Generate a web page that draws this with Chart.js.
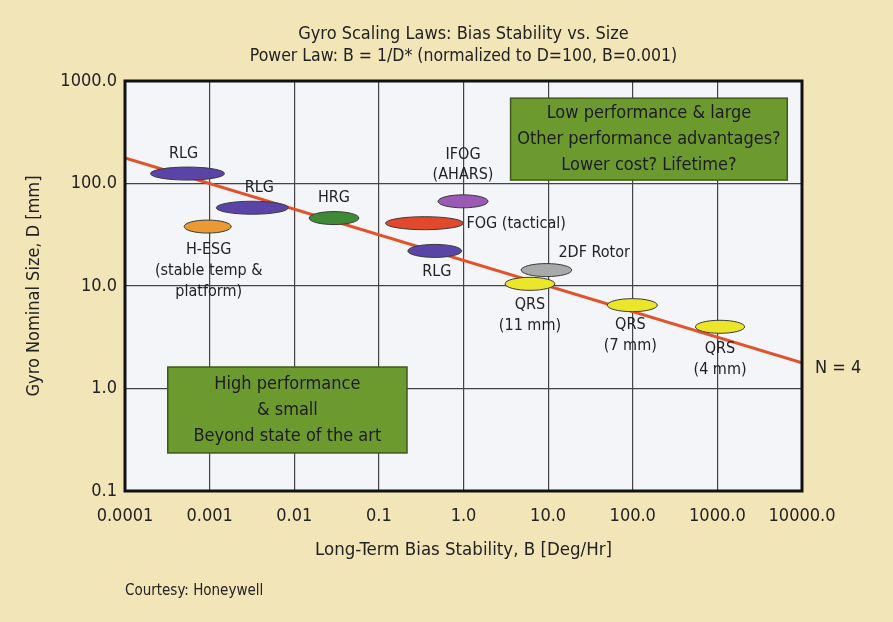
<!DOCTYPE html>
<html>
<head>
<meta charset="utf-8">
<title>Gyro Scaling Laws</title>
<script src="https://cdn.jsdelivr.net/npm/chart.js@4.4.1/dist/chart.umd.min.js"></script>
<style>
  html, body { margin: 0; padding: 0; background: #f2e5b8; }
  #wrap { width: 893px; height: 622px; }
</style>
</head>
<body>
<div id="wrap"><canvas id="gyroChart" width="893" height="622"></canvas></div>
<script>
// decade ticks only
const xTickValues = [0.0001, 0.001, 0.01, 0.1, 1, 10, 100, 1000, 10000];
const xTickLabels = ['0.0001', '0.001', '0.01', '0.1', '1.0', '10.0', '100.0', '1000.0', '10000.0'];
const yTickValues = [0.1, 1, 10, 100, 1000];
const yTickLabels = ['0.1', '1.0', '10.0', '100.0', '1000.0'];

// gyro families: bias stability range (deg/hr) and nominal size (mm)
const gyroNames = ['RLG', 'RLG', 'H-ESG', 'HRG', 'IFOG', 'FOG', 'RLG', '2DF Rotor', 'QRS', 'QRS', 'QRS'];
const biasLow  = [0.0002, 0.0012, 0.0005, 0.015, 0.5, 0.12, 0.22, 4.8, 3.1, 50, 550];
const biasHigh = [0.0015, 0.0085, 0.0018, 0.058, 1.95, 1.0, 0.95, 19, 12, 195, 2100];
const sizeMm   = [125, 58, 38, 46, 67, 41, 22, 14.3, 10.5, 6.5, 4.0];
const gyroLabels = [
    ['RLG'], ['RLG'], ['H-ESG', '(stable temp &', 'platform)'], ['HRG'], ['IFOG', '(AHARS)'],
    ['FOG (tactical)'], ['RLG'], ['2DF Rotor'], ['QRS', '(11 mm)'], ['QRS', '(7 mm)'], ['QRS', '(4 mm)']
];

// power law line, N = 4
const lawBias = [0.0001, 10000];
const lawSize = [178, 1.78];
const lawLabel = 'N = 4';

// shaded region notes
const noteText = [
    ['Low performance & large', 'Other performance advantages?', 'Lower cost? Lifetime?'],
    ['High performance', '& small', 'Beyond state of the art']
];
const noteBias = [[3.6, 6700], [0.00032, 0.215]];
const noteSize = [[108, 680], [0.235, 1.62]];

const titleText = 'Gyro Scaling Laws: Bias Stability vs. Size';
const subtitleText = 'Power Law: B = 1/D* (normalized to D=100, B=0.001)';

// styles
const FONT = "'Liberation Sans Narrow', 'DejaVu Sans Condensed', 'Roboto Condensed', 'Liberation Sans', sans-serif";
const gyroColors = ['#5a45a6', '#5a45a6', '#e99a35', '#3f8b35', '#9b59b6', '#e2492c', '#5a45a6', '#a9a9a9', '#ece62a', '#ece62a', '#ece62a'];
const labelPlace = ['above', 'above', 'below', 'above', 'above', 'right', 'below', 'aboveRight', 'below', 'below', 'below'];
const labelDx = [-4, 7, 1, 0, 0, 0, 2, 0, 0, -2, 0];
const labelDy = [0, 0, 2, 0, -6, 0, 0, 0, 0, -1, 1];

function drawLines(ctx, lines, x, y, step) {
    lines.forEach((t, i) => ctx.fillText(t, x, y + i * step));
}

const gyroPlugin = {
    id: 'gyroPlugin',
    beforeDraw(chart) {
        const { ctx, chartArea: a } = chart;
        ctx.save();
        ctx.fillStyle = '#f3f5f8';
        ctx.fillRect(a.left, a.top, a.right - a.left, a.bottom - a.top);
        ctx.restore();
    },
    beforeDatasetsDraw(chart) {
        const { ctx, scales: { x, y } } = chart;
        ctx.save();
        noteText.forEach((lines, i) => {
            const x1 = x.getPixelForValue(noteBias[i][0]);
            const x2 = x.getPixelForValue(noteBias[i][1]);
            const y1 = y.getPixelForValue(noteSize[i][1]);
            const y2 = y.getPixelForValue(noteSize[i][0]);
            ctx.fillStyle = '#6d9a2f';
            ctx.fillRect(x1, y1, x2 - x1, y2 - y1);
            ctx.strokeStyle = '#3f5a1a';
            ctx.lineWidth = 1.5;
            ctx.strokeRect(x1, y1, x2 - x1, y2 - y1);
            ctx.fillStyle = '#1c1c1c';
            ctx.font = '18px ' + FONT;
            ctx.textAlign = 'center';
            ctx.textBaseline = 'middle';
            const cy = (y1 + y2) / 2;
            drawLines(ctx, lines, (x1 + x2) / 2, cy - 26, 26);
        });
        ctx.restore();
    },
    afterDatasetsDraw(chart) {
        const { ctx, scales: { x, y } } = chart;
        ctx.save();
        ctx.font = '16px ' + FONT;
        ctx.textBaseline = 'middle';
        gyroNames.forEach((name, i) => {
            const xl = x.getPixelForValue(biasLow[i]);
            const xr = x.getPixelForValue(biasHigh[i]);
            const cx = (xl + xr) / 2;
            const cy = y.getPixelForValue(sizeMm[i]);
            ctx.beginPath();
            ctx.ellipse(cx, cy, (xr - xl) / 2, 6.5, 0, 0, Math.PI * 2);
            ctx.fillStyle = gyroColors[i];
            ctx.fill();
            ctx.strokeStyle = '#3a3a3a';
            ctx.lineWidth = 1;
            ctx.stroke();

            const lines = gyroLabels[i];
            ctx.fillStyle = '#222';
            const lx = cx + labelDx[i];
            const dy = labelDy[i];
            if (labelPlace[i] === 'above') {
                ctx.textAlign = 'center';
                drawLines(ctx, lines, lx, cy - 20 - (lines.length - 1) * 20 + dy, 20);
            } else if (labelPlace[i] === 'below') {
                ctx.textAlign = 'center';
                drawLines(ctx, lines, lx, cy + 21 + dy, 21);
            } else if (labelPlace[i] === 'right') {
                ctx.textAlign = 'left';
                drawLines(ctx, lines, xr + 3, cy + 1 + dy, 20);
            } else {
                ctx.textAlign = 'left';
                drawLines(ctx, lines, cx + 12, cy - 17 + dy, 20);
            }
        });

        // power law label at the end of the line
        const ex = x.getPixelForValue(lawBias[1]);
        const ey = y.getPixelForValue(lawSize[1]);
        ctx.textAlign = 'left';
        ctx.font = '18px ' + FONT;
        ctx.fillText(lawLabel, ex + 13, ey + 5);
        ctx.restore();
    },
    afterDraw(chart) {
        const { ctx, chartArea: a } = chart;
        ctx.save();
        ctx.strokeStyle = '#111';
        ctx.lineWidth = 3;
        ctx.strokeRect(a.left, a.top, a.right - a.left, a.bottom - a.top);

        ctx.fillStyle = '#222';
        ctx.textBaseline = 'middle';
        ctx.textAlign = 'center';
        const mid = (a.left + a.right) / 2;
        ctx.font = '18px ' + FONT;
        ctx.fillText(titleText, mid, 34);
        ctx.font = '17.5px ' + FONT;
        ctx.fillText(subtitleText, mid, 56);

        ctx.font = '15px ' + FONT;
        ctx.textAlign = 'left';
        ctx.fillText('Courtesy: Honeywell', 125, 591);
        ctx.restore();
    }
};

Chart.defaults.font.family = FONT;
Chart.defaults.color = '#222';

new Chart(document.getElementById('gyroChart'), {
    type: 'scatter',
    data: {
        datasets: [{
            label: 'Power law',
            data: lawBias.map((b, i) => ({ x: b, y: lawSize[i] })),
            showLine: true,
            borderColor: '#e4522b',
            borderWidth: 3,
            pointRadius: 0
        }]
    },
    options: {
        responsive: false,
        animation: false,
        devicePixelRatio: 1,
        layout: { padding: { left: 0, right: 91, top: 81, bottom: 60 } },
        plugins: {
            legend: { display: false },
            tooltip: { enabled: false },
            title: { display: false }
        },
        scales: {
            x: {
                type: 'logarithmic',
                min: 0.0001,
                max: 10000,
                afterBuildTicks: scale => { scale.ticks = xTickValues.map(v => ({ value: v })); },
                afterFit: scale => { scale.height = 71; },
                ticks: {
                    autoSkip: false,
                    maxRotation: 0,
                    padding: 15,
                    font: { size: 18 },
                    callback: (v, i) => xTickLabels[i]
                },
                grid: { color: '#444', lineWidth: 1.2, drawTicks: false },
                border: { display: false },
                title: {
                    display: true,
                    text: 'Long-Term Bias Stability, B [Deg/Hr]',
                    font: { size: 18.5 },
                    padding: { top: 0, bottom: 1 }
                }
            },
            y: {
                type: 'logarithmic',
                min: 0.1,
                max: 1000,
                afterBuildTicks: scale => { scale.ticks = yTickValues.map(v => ({ value: v })); },
                afterFit: scale => { scale.width = 125; },
                ticks: {
                    autoSkip: false,
                    padding: 8,
                    font: { size: 18 },
                    callback: (v, i) => yTickLabels[i]
                },
                grid: { color: '#444', lineWidth: 1.2, drawTicks: false },
                border: { display: false },
                title: {
                    display: true,
                    text: 'Gyro Nominal Size, D [mm]',
                    font: { size: 18 },
                    padding: { top: 24, bottom: 0 }
                }
            }
        }
    },
    plugins: [gyroPlugin]
});
</script>
</body>
</html>
